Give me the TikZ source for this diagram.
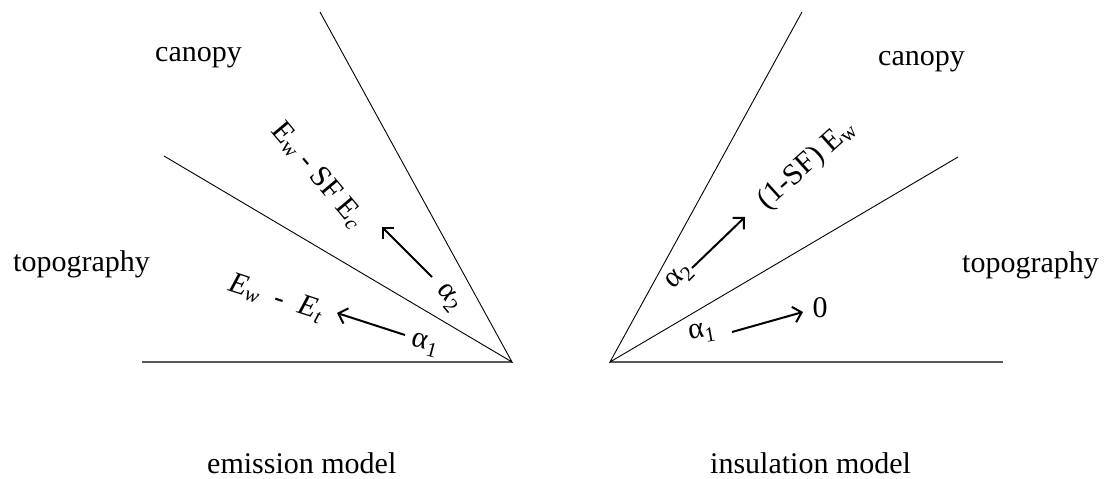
\documentclass[tikz,border=0pt]{standalone}
\usepackage{fontspec}
\setmainfont{Liberation Serif}
\usetikzlibrary{arrows.meta,positioning}

\begin{document}
\begin{tikzpicture}[
        x=1pt, y=-1pt,
        every node/.style={font=\fontsize{30}{36}\selectfont, inner sep=0pt},
        ray/.style={line width=0.9pt, draw=black},
        ground/.style={line width=1.4pt, draw=black!65},
        flow/.style={-{Straight Barb[length=8pt,width=16pt,line width=2pt]}, line width=2pt},
        region/.style={anchor=base west},
        term/.style={anchor=center}
    ]
        \useasboundingbox (0,0) rectangle (1106,479);

        % emission model (left)
        \coordinate (apexL) at (512,362);
        \coordinate (baseL) at (142,362);
        \coordinate (midL) at (164,156);
        \coordinate (topL) at (320,12);
        \draw[ground] (baseL) -- (apexL);
        \draw[ray] (midL) -- (apexL) -- (topL);

        \node[region] (canopyL) at (155,61) {canopy};
        \node[region] (topoL) at (13,271) {topography};

        \node[term, rotate=-15] (a1L) at (425,345) {α\textsubscript{1}};
        \node[term, rotate=-18] (fluxtL) at (276,298)
            {\itshape E\textsubscript{w}\hspace{0.5em}-\hspace{0.5em}E\textsubscript{t}};
        \node[term, rotate=-50] (a2L) at (448,298) {α\textsubscript{2}};
        \node[term, rotate=-50] (fluxcL) at (318,175) {E\textsubscript{w} - SF E\textsubscript{\itshape c}};
        \coordinate (a1Ls) at (405,335);
        \coordinate (a1Le) at (337,313);
        \coordinate (a2Ls) at (432,277);
        \coordinate (a2Le) at (382,227);
        \draw[flow] (a1Ls) -- (a1Le);
        \draw[flow] (a2Ls) -- (a2Le);

        % insulation model (right)
        \coordinate (apexR) at (610,362);
        \coordinate (baseR) at (1003,362);
        \coordinate (midR) at (958,157);
        \coordinate (topR) at (802,12);
        \draw[ground] (apexR) -- (baseR);
        \draw[ray] (midR) -- (apexR) -- (topR);

        \node[region] (canopyR) at (878,65) {canopy};
        \node[region] (topoR) at (962,272) {topography};

        \node[term, rotate=10] (a1R) at (702,333) {α\textsubscript{1}};
        \node[term] (zeroR) at (820,308) {0};
        \node[term, rotate=45] (a2R) at (680,277) {α\textsubscript{2}};
        \node[term, rotate=42] (fluxR) at (807,165) {(1-SF) E\textsubscript{w}};
        \coordinate (a1Rs) at (732,332);
        \coordinate (a1Re) at (803,312);
        \coordinate (a2Rs) at (692,268);
        \coordinate (a2Re) at (745,217);
        \draw[flow] (a1Rs) -- (a1Re);
        \draw[flow] (a2Rs) -- (a2Re);

        % captions
        \node[region] (emission) at (207,473) {emission model};
        \node[region] (insulation) at (710,473) {insulation model};
    \end{tikzpicture}
\end{document}
